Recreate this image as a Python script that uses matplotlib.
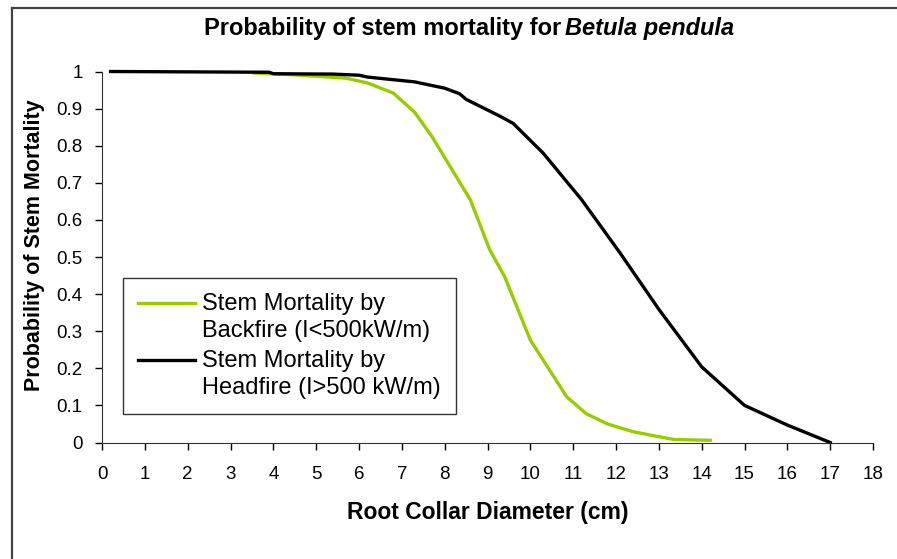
import matplotlib
matplotlib.use("Agg")
import matplotlib.pyplot as plt
from matplotlib.lines import Line2D
from matplotlib.legend_handler import HandlerLine2D

plt.rcParams["font.family"] = ["Liberation Sans", "DejaVu Sans"]

# Valores
backfire_x = [3.55, 4.5, 5.7, 6.2, 6.8, 7.3, 7.7, 8.6, 9.05, 9.4, 10.0, 10.85, 11.3, 11.8, 12.4, 13.35, 14.2]
backfire_y = [0.996, 0.991, 0.982, 0.969, 0.942, 0.89, 0.825, 0.654, 0.52, 0.447, 0.276, 0.123, 0.078, 0.05, 0.029, 0.008, 0.006]

headfire_x = [0.2, 3.9, 4.0, 5.4, 6.0, 6.2, 7.3, 8.0, 8.35, 8.5, 9.3, 9.6, 10.3, 11.2, 12.1, 13.0, 14.0, 15.0, 16.0, 17.0]
headfire_y = [1.0, 0.998, 0.994, 0.993, 0.99, 0.985, 0.972, 0.955, 0.94, 0.925, 0.879, 0.86, 0.78, 0.654, 0.51, 0.359, 0.204, 0.10, 0.047, 0.0]

x_ticks = list(range(0, 19))
y_ticks = [0, 0.1, 0.2, 0.3, 0.4, 0.5, 0.6, 0.7, 0.8, 0.9, 1]
y_labels = ["0", "0.1", "0.2", "0.3", "0.4", "0.5", "0.6", "0.7", "0.8", "0.9", "1"]


# Linea de la leyenda alineada con la primera linea de texto
class TopLineHandler(HandlerLine2D):
    def create_artists(self, legend, orig_handle, xdescent, ydescent, width, height, fontsize, trans):
        artists = super().create_artists(legend, orig_handle, xdescent, ydescent, width, height,
                                         fontsize, trans)
        for a in artists:
            if isinstance(a, Line2D):
                y = height / 2 - ydescent + 0.62 * fontsize
                a.set_ydata([y] * len(a.get_xdata()))
        return artists


W, H = 897, 559
fig = plt.figure(figsize=(W / 100, H / 100), dpi=100)

# Borde exterior (solo izquierda y arriba visibles)
fig.add_artist(Line2D([12 / W, 12 / W], [0, 1 - 8 / H], color="#444444", lw=1.6))
fig.add_artist(Line2D([12 / W, 1], [1 - 8 / H, 1 - 8 / H], color="#444444", lw=1.6))

ax = fig.add_axes([102 / W, (H - 442.5) / H, (873 - 102) / W, (442.5 - 71.5) / H])

ax.plot(backfire_x, backfire_y, color="#99cc00", lw=2.4, clip_on=False,
        label="Stem Mortality by\nBackfire (I<500kW/m)")
ax.plot(headfire_x, headfire_y, color="black", lw=2.4, clip_on=False,
        label="Stem Mortality by\nHeadfire (I>500 kW/m)")

ax.set_xlim(0, 18)
ax.set_ylim(0, 1)
ax.set_xticks(x_ticks)
ax.set_yticks(y_ticks)
ax.set_yticklabels(y_labels)
ax.tick_params(direction="out", length=5, width=1, labelsize=13.5, colors="black")
ax.tick_params(axis="x", pad=12)
ax.tick_params(axis="y", pad=9)
ax.spines["top"].set_visible(False)
ax.spines["right"].set_visible(False)
ax.spines["left"].set_color("#333333")
ax.spines["bottom"].set_color("#333333")

ax.set_xlabel("Root Collar Diameter (cm)", fontsize=16.5, fontweight="bold", labelpad=13)
ax.set_ylabel("Probability of Stem Mortality", fontsize=15.5, fontweight="bold")
ax.yaxis.set_label_coords(-0.074, 0.532)

# Titulo con nombre de especie en cursiva
t1 = fig.text(561 / W, 1 - 29 / H, "Probability of stem mortality for", ha="right", va="center",
              fontsize=17, fontweight="bold")
ax.annotate("Betula pendula", xy=(1, 0), xycoords=t1, xytext=(3, 0), textcoords="offset points",
            ha="left", va="bottom", fontsize=17, fontweight="bold", fontstyle="italic")

leg = ax.legend(loc="upper left", bbox_to_anchor=(123 / W, 1 - 278 / H), bbox_transform=fig.transFigure,
                fontsize=17, frameon=True, fancybox=False, edgecolor="black", handlelength=2.4,
                borderpad=0.65, labelspacing=0.3, handletextpad=0.3, borderaxespad=0,
                handler_map={Line2D: TopLineHandler()})
leg.get_frame().set_linewidth(1.0)
for txt in leg.get_texts():
    txt.set_linespacing(1.3)

plt.savefig("out.png", dpi=100)
